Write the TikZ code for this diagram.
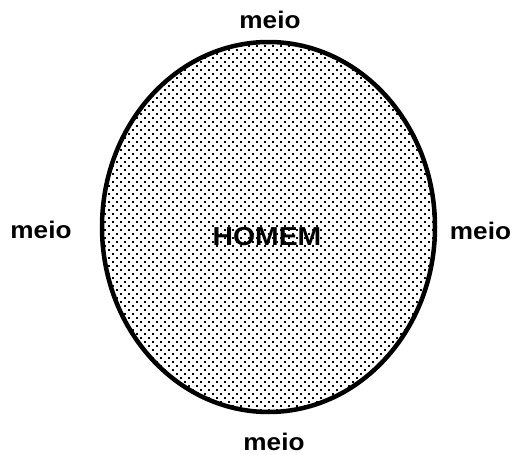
\documentclass[tikz,border=0pt]{standalone}
\usepackage{fontspec}
\setmainfont{Liberation Sans}
\usetikzlibrary{patterns,shapes.geometric}
\pgfdeclarepatternformonly{macdots}{\pgfpoint{-1pt}{-1pt}}{\pgfpoint{9pt}{9pt}}{\pgfpoint{8pt}{8pt}}{%
  \pgfpathrectangle{\pgfpoint{0pt}{0pt}}{\pgfpoint{1.8pt}{1.8pt}}%
  \pgfpathrectangle{\pgfpoint{4pt}{4pt}}{\pgfpoint{1.8pt}{1.8pt}}%
  \pgfusepath{fill}}
\begin{document}
\begin{tikzpicture}[x=1pt,y=-1pt,
  lbl/.style={font=\fontsize{24}{28}\selectfont\bfseries, inner sep=0pt, anchor=base, xscale=1.09}]
\useasboundingbox (0,0) rectangle (512,455);
\node[draw=black, line width=4.5pt, ellipse, minimum width=333pt, minimum height=370pt, inner sep=0pt,
  pattern=macdots, pattern color=black] (homem) at (268.5,227) {};
\node[lbl, font=\fontsize{26}{30}\selectfont\bfseries, xscale=1.0] (t) at (267,245) {HOMEM};
\node[lbl] (top) at (270,28) {meio};
\node[lbl] (left) at (41,238) {meio};
\node[lbl] (right) at (480.5,239) {meio};
\node[lbl] (bottom) at (274,450) {meio};
\end{tikzpicture}
\end{document}
